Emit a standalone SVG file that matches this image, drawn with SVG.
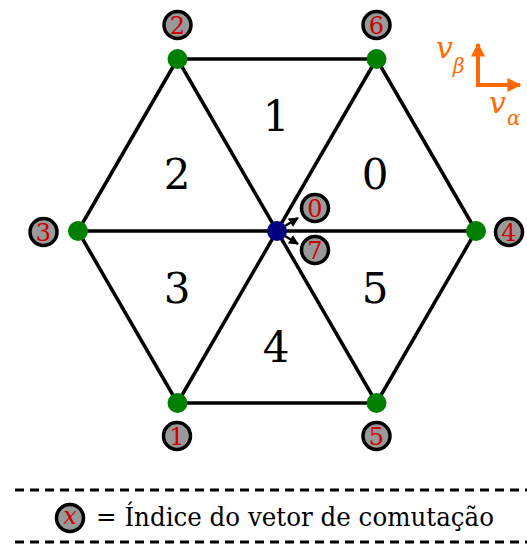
<svg xmlns="http://www.w3.org/2000/svg" width="527" height="545" viewBox="0 0 527 545">
<defs>
<style>
.edge{stroke:#000;stroke-width:3.5;fill:none;stroke-linecap:round}
.vtx{fill:#008000}
.ctr{fill:#000080}
.lbl{fill:#999;stroke:#000;stroke-width:3.5}
.ltxt{font-family:"DejaVu Serif","Liberation Serif","Times New Roman","Noto Serif",serif;font-size:24px;fill:#CC0000;text-anchor:middle}
.sec{font-family:"DejaVu Serif","Liberation Serif","Times New Roman","Noto Serif",serif;font-size:42px;fill:#000;text-anchor:middle}
.ax{stroke:#FF6A00;stroke-width:4;fill:none}
.axt{font-family:"DejaVu Serif","Liberation Serif","Times New Roman",serif;font-style:italic;fill:#FF6A00}
.dash{stroke:#000;stroke-width:3;stroke-dasharray:9 6}
.leg{font-family:"DejaVu Serif","Liberation Serif","Times New Roman","Noto Serif",serif;font-size:26px;fill:#000}
</style>
<marker id="ah" viewBox="0 0 10 10" refX="9" refY="5" markerWidth="4" markerHeight="4" orient="auto" markerUnits="strokeWidth"><path d="M0,0 L10,5 L0,10 z" fill="#000"/></marker>
<marker id="oh" viewBox="0 0 10 10" refX="9" refY="5" markerWidth="3.5" markerHeight="3.5" orient="auto" markerUnits="strokeWidth"><path d="M0,0 L10,5 L0,10 z" fill="#FF6A00"/></marker>
</defs>
<g id="connectors">
<line class="edge" x1="177.5" y1="59" x2="376.5" y2="59"/>
<line class="edge" x1="376.5" y1="59" x2="476" y2="231"/>
<line class="edge" x1="476" y1="231" x2="376.5" y2="403"/>
<line class="edge" x1="376.5" y1="403" x2="177.5" y2="403"/>
<line class="edge" x1="177.5" y1="403" x2="78" y2="231"/>
<line class="edge" x1="78" y1="231" x2="177.5" y2="59"/>
<line class="edge" x1="78" y1="231" x2="476" y2="231"/>
<line class="edge" x1="177.5" y1="59" x2="376.5" y2="403"/>
<line class="edge" x1="376.5" y1="59" x2="177.5" y2="403"/>
<line stroke="#000" stroke-width="2.5" x1="285" y1="226" x2="298" y2="218" marker-end="url(#ah)"/>
<line stroke="#000" stroke-width="2.5" x1="285" y1="236" x2="298" y2="244" marker-end="url(#ah)"/>
</g>
<g id="v2"><circle class="vtx" cx="177.5" cy="59" r="10"/></g>
<g id="v6"><circle class="vtx" cx="376.5" cy="59" r="10"/></g>
<g id="v3"><circle class="vtx" cx="78" cy="231" r="10"/></g>
<g id="v4"><circle class="vtx" cx="476" cy="231" r="10"/></g>
<g id="v1"><circle class="vtx" cx="177.5" cy="403" r="10"/></g>
<g id="v5"><circle class="vtx" cx="376.5" cy="403" r="10"/></g>
<g id="v07"><circle class="ctr" cx="277" cy="231" r="10"/></g>
<g id="lab2"><circle class="lbl" cx="177.5" cy="25" r="13.5"/><text class="ltxt" x="177.5" y="33.5">2</text></g>
<g id="lab6"><circle class="lbl" cx="376.5" cy="25" r="13.5"/><text class="ltxt" x="376.5" y="33.5">6</text></g>
<g id="lab3"><circle class="lbl" cx="43.5" cy="232" r="13.5"/><text class="ltxt" x="43.5" y="240.5">3</text></g>
<g id="lab4"><circle class="lbl" cx="509" cy="232" r="13.5"/><text class="ltxt" x="509" y="240.5">4</text></g>
<g id="lab1"><circle class="lbl" cx="177" cy="436" r="13.5"/><text class="ltxt" x="177" y="444.5">1</text></g>
<g id="lab5"><circle class="lbl" cx="376.5" cy="436" r="13.5"/><text class="ltxt" x="376.5" y="444.5">5</text></g>
<g id="lab0"><circle class="lbl" cx="315" cy="208" r="13.5"/><text class="ltxt" x="315" y="216.5">0</text></g>
<g id="lab7"><circle class="lbl" cx="315" cy="250" r="13.5"/><text class="ltxt" x="315" y="258.5">7</text></g>
<g id="sectors">
<text class="sec" x="276" y="131">1</text>
<text class="sec" x="177" y="189">2</text>
<text class="sec" x="375" y="189">0</text>
<text class="sec" x="177" y="303">3</text>
<text class="sec" x="375" y="303">5</text>
<text class="sec" x="276" y="362">4</text>
</g>
<g id="axes">
<line class="ax" x1="478" y1="87" x2="478" y2="44" marker-end="url(#oh)"/>
<line class="ax" x1="476" y1="85" x2="520" y2="85" marker-end="url(#oh)"/>
<text class="axt" x="436" y="58" font-size="30">v</text>
<text class="axt" x="453" y="73" font-size="20">β</text>
<text class="axt" x="489" y="113" font-size="30">v</text>
<text class="axt" x="507" y="125" font-size="20">α</text>
</g>
<g id="legend">
<line class="dash" x1="15" y1="490" x2="527" y2="490"/>
<line class="dash" x1="15" y1="542" x2="527" y2="542"/>
<circle class="lbl" cx="70" cy="518" r="13.5"/>
<text class="ltxt" x="70" y="524" font-style="italic">x</text>
<text class="leg" x="96" y="526" textLength="398" lengthAdjust="spacingAndGlyphs">= Índice do vetor de comutação</text>
</g>
</svg>
